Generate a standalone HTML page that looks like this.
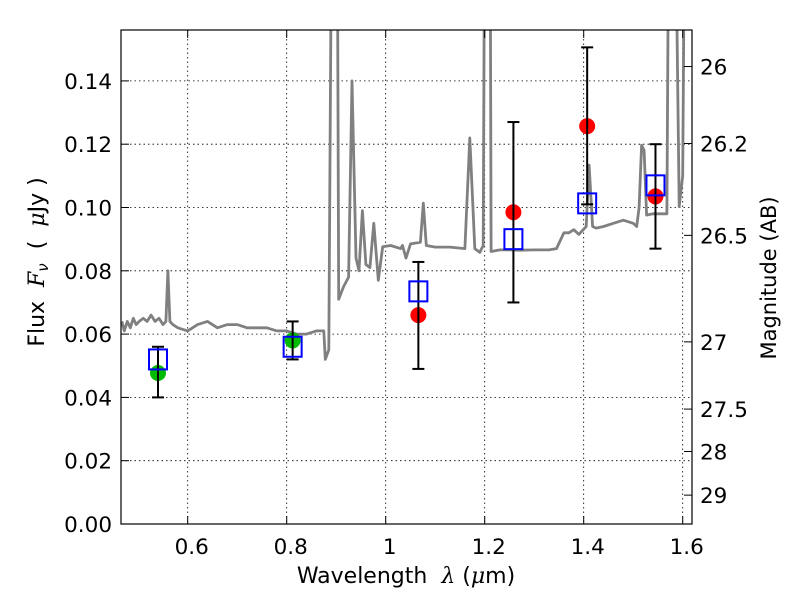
<!DOCTYPE html>
<html><head><meta charset="utf-8"><style>
body{margin:0;background:#fff}
svg{display:block;font-family:"DejaVu Sans","Liberation Sans",sans-serif}
</style></head><body>
<svg id="chart" width="800" height="600" viewBox="0 0 800 600">
<defs><clipPath id="pc"><rect x="121" y="30" width="571" height="494"/></clipPath></defs>
<rect x="0" y="0" width="800" height="600" fill="#fff"/>
<g id="grid"></g>
<g id="spec" clip-path="url(#pc)"></g>
<g id="marks" clip-path="url(#pc)"></g>
<rect x="121" y="30" width="571" height="494" fill="none" stroke="#000" stroke-width="1.2"/>
<g id="axes"></g>
<text x="406" y="583" font-size="22" text-anchor="middle" xml:space="preserve">Wavelength  <tspan font-style="italic" font-family="DejaVu Serif, serif">λ</tspan> (<tspan font-style="italic" font-family="DejaVu Serif, serif">μ</tspan>m)</text>
<text transform="translate(44,262) rotate(-90)" font-size="22" text-anchor="middle" xml:space="preserve">Flux  <tspan font-style="italic" font-family="DejaVu Serif, serif">F</tspan><tspan font-style="italic" font-size="15" dy="4">ν</tspan><tspan dy="-4">  (  </tspan><tspan font-style="italic" font-family="DejaVu Serif, serif">μ</tspan>Jy )</text>
<text transform="translate(776,278) rotate(-90)" font-size="21" text-anchor="middle">Magnitude (AB)</text>
</svg>
<script>
const xTicks=[0.6,0.8,1.0,1.2,1.4,1.6];
const xTickLabels=["0.6","0.8","1","1.2","1.4","1.6"];
const yTicks=[0,0.02,0.04,0.06,0.08,0.1,0.12,0.14];
const yTickLabels=["0.00","0.02","0.04","0.06","0.08","0.10","0.12","0.14"];
const magTicks=[26,26.2,26.5,27,27.5,28,29];
const magTickLabels=["26","26.2","26.5","27","27.5","28","29"];
const specLam=[0.467,0.472,0.478,0.484,0.49,0.496,0.502,0.51,0.518,0.526,0.534,0.542,0.55,0.556,0.56,0.564,0.57,0.58,0.6,0.62,0.64,0.66,0.68,0.7,0.72,0.74,0.76,0.78,0.8,0.82,0.84,0.86,0.875,0.878,0.885,0.891,0.893,0.902,0.905,0.91,0.915,0.925,0.932,0.94,0.946,0.953,0.96,0.968,0.976,0.985,0.994,1.01,1.03,1.034,1.041,1.05,1.07,1.076,1.082,1.1,1.13,1.16,1.17,1.18,1.19,1.197,1.2,1.211,1.213,1.231,1.25,1.27,1.3,1.33,1.345,1.36,1.37,1.38,1.39,1.405,1.411,1.418,1.425,1.44,1.46,1.48,1.5,1.507,1.512,1.517,1.522,1.527,1.54,1.56,1.568,1.572,1.577,1.585,1.593,1.6,1.604,1.61,1.62];
const specFlux=[0.064,0.061,0.064,0.062,0.065,0.063,0.064,0.065,0.064,0.066,0.064,0.065,0.063,0.064,0.08,0.064,0.063,0.062,0.061,0.063,0.064,0.062,0.063,0.063,0.062,0.062,0.062,0.061,0.061,0.060,0.060,0.061,0.061,0.052,0.055,0.2,0.2,0.2,0.071,0.073,0.075,0.078,0.140,0.084,0.080,0.099,0.082,0.081,0.095,0.077,0.0876,0.088,0.087,0.088,0.084,0.0885,0.089,0.1014,0.088,0.0875,0.0875,0.087,0.122,0.087,0.0858,0.088,0.2,0.2,0.0861,0.0866,0.0866,0.0865,0.0866,0.0866,0.087,0.092,0.092,0.093,0.0915,0.094,0.1134,0.094,0.0935,0.094,0.095,0.096,0.095,0.094,0.100,0.1197,0.118,0.0976,0.098,0.098,0.098,0.2,0.2,0.2,0.1003,0.11,0.2,0.2,0.2];
const photLam=[0.54,0.812,1.066,1.258,1.407,1.545];
const modelFlux=[0.052,0.056,0.0735,0.090,0.1013,0.107];
const obsFlux=[0.0477,0.058,0.066,0.0985,0.1257,0.1035];
const errLow=[0.040,0.052,0.049,0.070,0.101,0.087];
const errHigh=[0.056,0.064,0.0828,0.127,0.1506,0.120];
const obsColor=["#00bb00","#00bb00","#ff0000","#ff0000","#ff0000","#ff0000"];

const X=v=>187.7+(v-0.6)*495;
const Y=v=>524-v*3165;
const M=m=>Y(Math.pow(10,(23.9-m)/2.5));
const NS="http://www.w3.org/2000/svg";
function mk(p,t,a){const e=document.createElementNS(NS,t);for(const k in a)e.setAttribute(k,a[k]);p.appendChild(e);return e;}
const grid=document.getElementById('grid'),axes=document.getElementById('axes');
xTicks.forEach((t,i)=>{
 const l=mk(grid,'line',{x1:X(t),x2:X(t),y1:30,y2:524,stroke:'#000','stroke-width':0.8,'stroke-dasharray':'1.5,3'});
 
 
 mk(axes,'line',{x1:X(t),x2:X(t),y1:524,y2:516,stroke:'#000'});
 mk(axes,'line',{x1:X(t),x2:X(t),y1:30,y2:38,stroke:'#000'});
 const tx=mk(axes,'text',{x:X(t)+4,y:554,'font-size':21.5,'text-anchor':'middle'});
 tx.textContent=xTickLabels[i];
 
 
});
yTicks.forEach((t,i)=>{
 if(t>0&&t<0.155){const l=mk(grid,'line',{x1:121,x2:692,y1:Y(t),y2:Y(t),stroke:'#000','stroke-width':0.8,'stroke-dasharray':'1.5,3'});
 
 }
 mk(axes,'line',{x1:121,x2:129,y1:Y(t),y2:Y(t),stroke:'#000'});
 const tx=mk(axes,'text',{x:112,y:Y(t)+8,'font-size':21.5,'text-anchor':'end'});
 tx.textContent=yTickLabels[i];
 
 
});
magTicks.forEach((m,i)=>{
 mk(axes,'line',{x1:684,x2:692,y1:M(m),y2:M(m),stroke:'#000'});
 const tx=mk(axes,'text',{x:700,y:M(m)+8,'font-size':21.5});
 tx.textContent=magTickLabels[i];
 
 
});
const spec=document.getElementById('spec');
const pl=mk(spec,'polyline',{points:specLam.map((l,i)=>X(l).toFixed(1)+','+Y(specFlux[i]).toFixed(1)).join(' '),fill:'none',stroke:'#808080','stroke-width':2.8,'stroke-linejoin':'round'});


const marks=document.getElementById('marks');
photLam.forEach((l,i)=>{
 const x=X(l);
 const c=mk(marks,'circle',{cx:x,cy:Y(obsFlux[i]),r:8,fill:obsColor[i]});
 
 
 const g=mk(marks,'g',{stroke:'#000','stroke-width':2});
 
 
 mk(g,'line',{x1:x,x2:x,y1:Y(errLow[i]),y2:Y(errHigh[i])});
 mk(g,'line',{x1:x-6,x2:x+6,y1:Y(errLow[i]),y2:Y(errLow[i])});
 mk(g,'line',{x1:x-6,x2:x+6,y1:Y(errHigh[i]),y2:Y(errHigh[i])});
 const s=mk(marks,'rect',{x:x-9,y:Y(modelFlux[i])-10,width:18,height:20,fill:'none',stroke:'#0000ff','stroke-width':2});
 
 
});
</script>
</body></html>
